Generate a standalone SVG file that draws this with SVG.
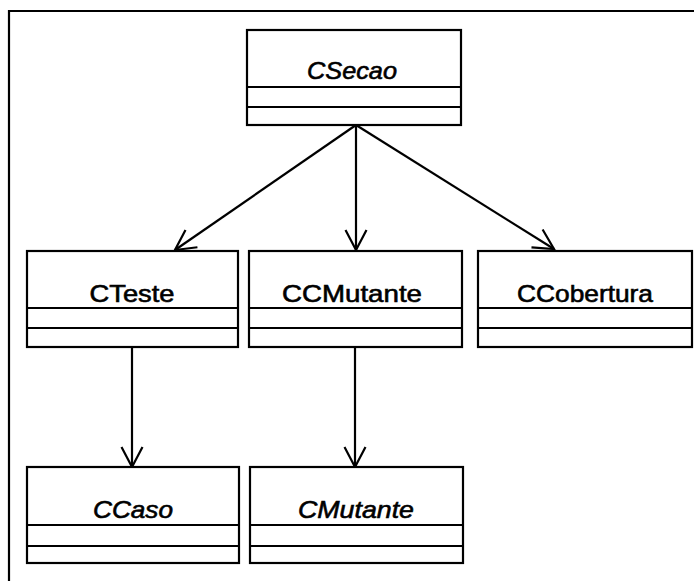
<svg xmlns="http://www.w3.org/2000/svg" width="694" height="582" viewBox="0 0 694 582">
<style>
.box{fill:#fff;stroke:#000;stroke-width:2.2}
.div{stroke:#000;stroke-width:2.2}
.lbl{font-family:"Liberation Sans",Arial,sans-serif;font-size:24px;fill:#000;stroke:#000;stroke-width:0.6;text-anchor:middle}
.it{font-style:italic}
.edge{stroke:#000;stroke-width:2.2;fill:none}
</style>
<defs>
<marker id="open" viewBox="0 0 24 24" refX="22" refY="12" markerWidth="24" markerHeight="24" markerUnits="userSpaceOnUse" orient="auto">
<path d="M2,1.5 L22,12 L2,22.5" fill="none" stroke="#000" stroke-width="2.2"/>
</marker>
</defs>
<path d="M9,581 V11 H694" fill="none" stroke="#000" stroke-width="2.2"/>
<g id="edges">
<line class="edge" x1="356" y1="125" x2="175" y2="250" marker-end="url(#open)"/>
<line class="edge" x1="356" y1="125" x2="356" y2="250" marker-end="url(#open)"/>
<line class="edge" x1="356" y1="125" x2="554" y2="249" marker-end="url(#open)"/>
<line class="edge" x1="132" y1="347" x2="132" y2="467" marker-end="url(#open)"/>
<line class="edge" x1="355" y1="347" x2="355" y2="467" marker-end="url(#open)"/>
</g>
<g id="CSecao">
<rect class="box" x="247" y="30" width="214" height="95"/>
<line class="div" x1="247" y1="87" x2="461" y2="87"/>
<line class="div" x1="247" y1="107" x2="461" y2="107"/>
<text class="lbl it" x="352" y="79" textLength="90" lengthAdjust="spacingAndGlyphs">CSecao</text>
</g>
<g id="CTeste">
<rect class="box" x="27" y="251" width="211" height="96"/>
<line class="div" x1="27" y1="308" x2="238" y2="308"/>
<line class="div" x1="27" y1="328" x2="238" y2="328"/>
<text class="lbl" x="132" y="302" textLength="85" lengthAdjust="spacingAndGlyphs">CTeste</text>
</g>
<g id="CCMutante">
<rect class="box" x="249" y="251" width="213" height="96"/>
<line class="div" x1="249" y1="308" x2="462" y2="308"/>
<line class="div" x1="249" y1="328" x2="462" y2="328"/>
<text class="lbl" x="352" y="302" textLength="140" lengthAdjust="spacingAndGlyphs">CCMutante</text>
</g>
<g id="CCobertura">
<rect class="box" x="478" y="251" width="214" height="96"/>
<line class="div" x1="478" y1="308" x2="692" y2="308"/>
<line class="div" x1="478" y1="328" x2="692" y2="328"/>
<text class="lbl" x="585" y="302" textLength="136" lengthAdjust="spacingAndGlyphs">CCobertura</text>
</g>
<g id="CCaso">
<rect class="box" x="27" y="467" width="212" height="96"/>
<line class="div" x1="27" y1="525" x2="239" y2="525"/>
<line class="div" x1="27" y1="546" x2="239" y2="546"/>
<text class="lbl it" x="133" y="518" textLength="80" lengthAdjust="spacingAndGlyphs">CCaso</text>
</g>
<g id="CMutante">
<rect class="box" x="250" y="467" width="213" height="96"/>
<line class="div" x1="250" y1="525" x2="463" y2="525"/>
<line class="div" x1="250" y1="546" x2="463" y2="546"/>
<text class="lbl it" x="356" y="518" textLength="116" lengthAdjust="spacingAndGlyphs">CMutante</text>
</g>
</svg>
